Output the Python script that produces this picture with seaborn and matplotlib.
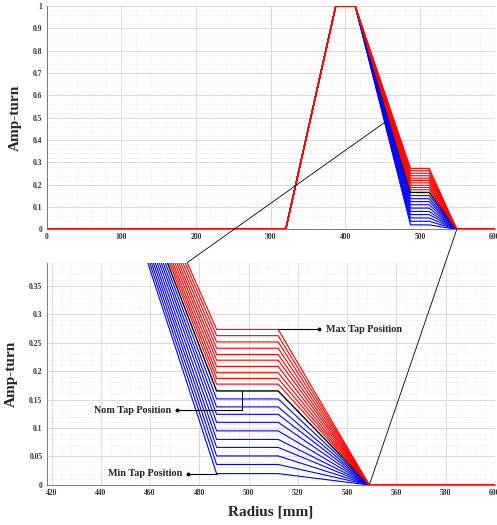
import numpy as np
import pandas as pd
import matplotlib
matplotlib.use("Agg")
import matplotlib.pyplot as plt
import seaborn as sns
from matplotlib.patches import ConnectionPatch
from matplotlib.ticker import MultipleLocator, FormatStrFormatter

# Ampere-turn profile break points along the radius [mm]
radius_mm = [0, 320, 387, 413, 487, 512, 549, 600]

# Tap winding level for each tap position
red_levels = [0.177, 0.187, 0.197, 0.208, 0.219, 0.229, 0.240, 0.251, 0.262, 0.273]
nom_level = 0.165
blue_levels = [0.151, 0.137, 0.124, 0.110, 0.095, 0.080, 0.066, 0.051, 0.036, 0.020]

# Profile shape (level replaced by tap level)
shape = [0, 0, 1, 1, None, None, 0, 0]


def profile(level):
    return [level if v is None else v for v in shape]


def build_df():
    rows = []
    # draw order: blue, nominal, red (red ends up on top of the shared segments)
    for i, lv in enumerate(blue_levels):
        for x, y in zip(radius_mm, profile(lv)):
            rows.append({"tap": f"b{i}", "group": "blue", "radius": x, "amp": y})
    for x, y in zip(radius_mm, profile(nom_level)):
        rows.append({"tap": "nom", "group": "black", "radius": x, "amp": y})
    for i, lv in enumerate(red_levels):
        for x, y in zip(radius_mm, profile(lv)):
            rows.append({"tap": f"r{i}", "group": "red", "radius": x, "amp": y})
    return pd.DataFrame(rows)


def style_axes(ax, xmaj, xmin, ymaj, ymin, yfmt):
    ax.xaxis.set_major_locator(MultipleLocator(xmaj))
    ax.xaxis.set_minor_locator(MultipleLocator(xmin))
    ax.yaxis.set_major_locator(MultipleLocator(ymaj))
    ax.yaxis.set_minor_locator(MultipleLocator(ymin))
    ax.yaxis.set_major_formatter(FormatStrFormatter(yfmt))
    ax.grid(True, which="major", color="#d4d4d4", linewidth=0.6)
    ax.grid(True, which="minor", color="#e6e6e6", linewidth=0.5, linestyle=":")
    ax.set_axisbelow(True)
    ax.tick_params(which="both", direction="in", length=2.5, width=0.5,
                   labelsize=5.5, pad=3, colors="0.2")
    ax.tick_params(which="minor", length=0)
    for lab in ax.get_xticklabels() + ax.get_yticklabels():
        lab.set_fontweight("bold")
    for s in ["top", "right"]:
        ax.spines[s].set_visible(False)
    for s in ["left", "bottom"]:
        ax.spines[s].set_color("0.4")
        ax.spines[s].set_linewidth(0.6)
    ax.set_xlabel("")
    ax.set_ylabel("")


def draw_lines(ax, df):
    colors = {"blue": "#0000ff", "red": "#ff0000", "black": "#000000"}
    for tap, d in df.groupby("tap", sort=False):
        g = d["group"].iloc[0]
        sns.lineplot(data=d, x="radius", y="amp", ax=ax, color=colors[g],
                     linewidth=0.8 if g != "black" else 1.0, sort=False,
                     estimator=None, legend=False)


def main():
    sns.set_style("white")
    plt.rcParams["font.family"] = ["Liberation Serif", "DejaVu Serif"]

    df = build_df()
    fig = plt.figure(figsize=(4.97, 5.25), dpi=100)
    ax1 = fig.add_axes([0.0938, 0.5632, 0.902, 0.4254])
    ax2 = fig.add_axes([0.0938, 0.0762, 0.902, 0.4234])

    draw_lines(ax1, df)
    ax1.set_xlim(0, 600)
    ax1.set_ylim(0, 1)
    style_axes(ax1, 100, 20, 0.1, 0.02, "%g")
    ax1.set_ylabel("Amp-turn", fontsize=11, fontweight="bold", labelpad=8)

    draw_lines(ax2, df)
    ax2.set_xlim(418, 600)
    ax2.set_ylim(0, 0.39)
    style_axes(ax2, 20, 4, 0.05, 0.01, "%g")
    ax2.set_ylabel("Amp-turn", fontsize=11, fontweight="bold", labelpad=8)
    ax2.set_xlabel("Radius [mm]", fontsize=11, fontweight="bold", labelpad=6)

    # annotations
    top_red = red_levels[-1]
    ax2.plot([512, 528.4], [top_red, top_red], color="black", lw=0.8)
    ax2.plot([528.4], [top_red], "o", color="black", ms=1.8)
    ax2.text(531.5, top_red, "Max Tap Position", fontsize=7.3, fontweight="bold",
             va="center", ha="left")

    ax2.plot([497.5, 497.5, 471], [nom_level, 0.131, 0.131], color="black", lw=0.8)
    ax2.plot([471], [0.131], "o", color="black", ms=1.8)
    ax2.text(468.5, 0.131, "Nom Tap Position", fontsize=7.3, fontweight="bold",
             va="center", ha="right")

    low = blue_levels[-1]
    ax2.plot([487, 475.5], [low, low], color="black", lw=0.8)
    ax2.plot([475.5], [low], "o", color="black", ms=1.8)
    ax2.text(473, low, "Min Tap Position", fontsize=7.3, fontweight="bold",
             va="center", ha="right")

    # zoom connector lines
    for (xa, ya), (xb, yb) in [((453, 0.48), (475, 0.39)), ((549, 0), (549, 0))]:
        con = ConnectionPatch(xyA=(xa, ya), coordsA=ax1.transData,
                              xyB=(xb, yb), coordsB=ax2.transData,
                              color="black", lw=0.6)
        fig.add_artist(con)

    fig.savefig("out.png", dpi=100)


if __name__ == "__main__":
    main()
